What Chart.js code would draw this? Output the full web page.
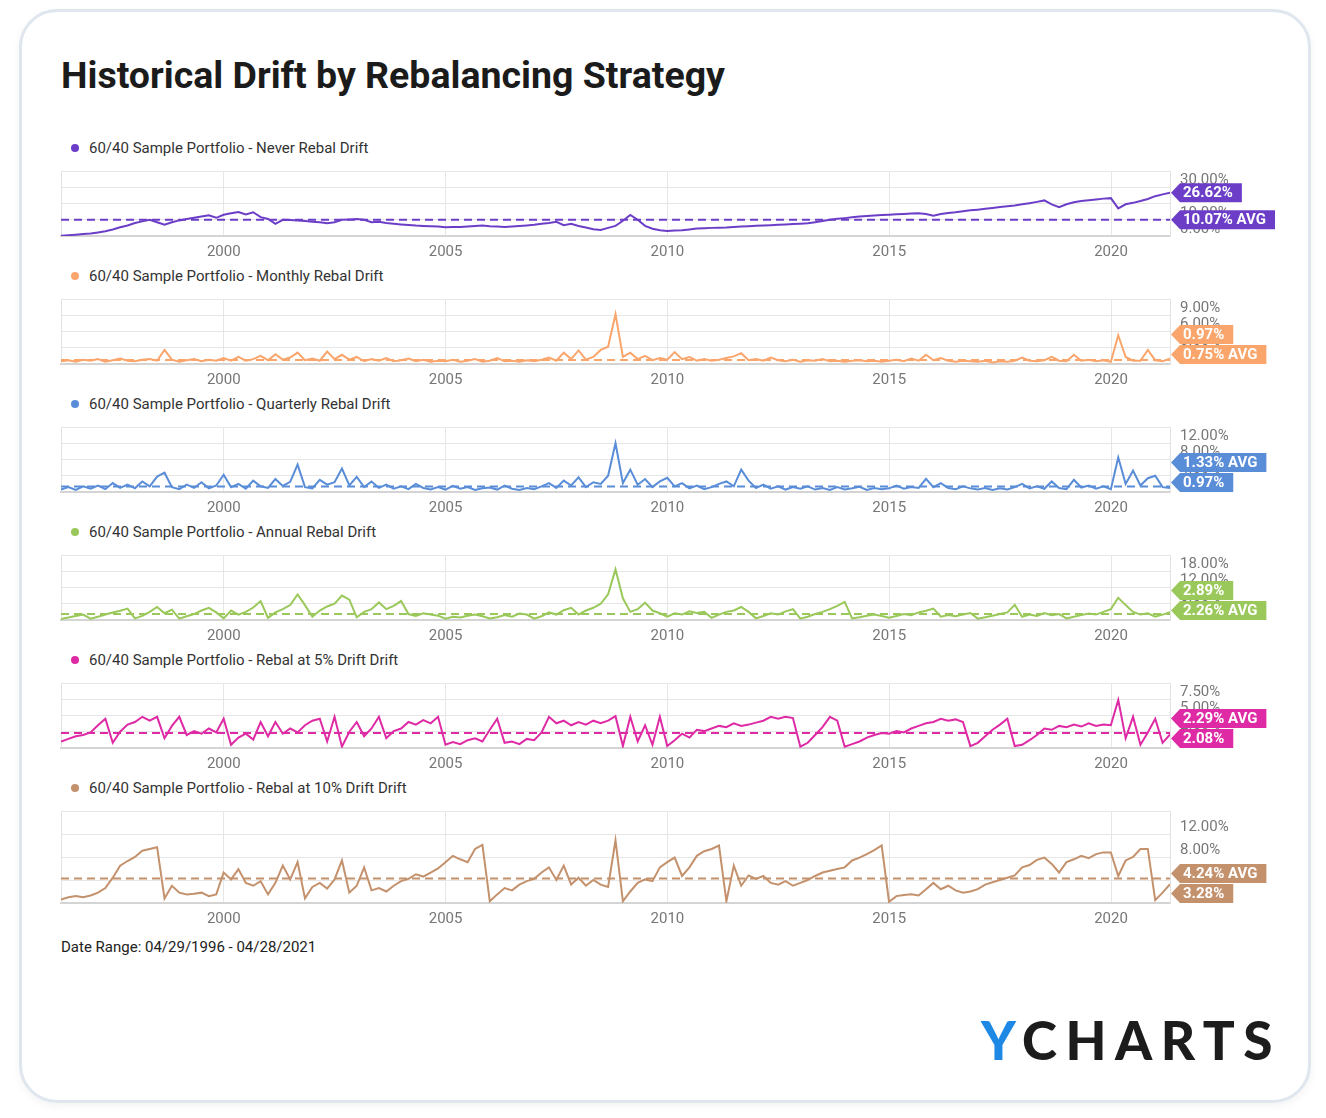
<!DOCTYPE html>
<html>
<head>
<meta charset="utf-8">
<script src="https://cdn.jsdelivr.net/npm/chart.js@4.4.1/dist/chart.umd.min.js"></script>
<style>
  body { margin: 0; background: #fff; width: 1326px; height: 1118px; position: relative; overflow: hidden; font-family: Roboto, sans-serif; }
  .card { position: absolute; left: 19px; top: 9px; width: 1286px; height: 1088px; border: 3px solid #dfe6ee; border-radius: 38px; box-shadow: 0 3px 8px rgba(0,0,0,0.05); }
  h1 { position: absolute; left: 61px; top: 53px; margin: 0; font: 700 37.5px Roboto; color: #1b1b1b; }
  .legend { position: absolute; left: 71px; font: 400 15px Roboto; color: #333; line-height: 17px; white-space: nowrap; }
  .legend i { display: inline-block; width: 8px; height: 8px; border-radius: 50%; margin-right: 10px; vertical-align: 1px; }
  canvas { position: absolute; left: 50px; }
  .range { position: absolute; left: 61px; top: 938px; font: 400 15px Roboto; color: #222; }
  .logo { position: absolute; left: 981px; top: 1008px; font: 900 53px Lato; letter-spacing: 8.5px; color: #1c1c1c; }
  .logo span { color: #1e88e5; }
</style>
</head>
<body>
<div class="card"></div>
<h1>Historical Drift by Rebalancing Strategy</h1>
<div id="panels"></div>
<div class="range">Date Range: 04/29/1996 - 04/28/2021</div>
<div class="logo"><span>Y</span>CHARTS</div>
<script>
// bi-monthly observations, 04/1996 .. 04/2021
const dates = Array.from({ length: 151 }, (_, i) => 1996.33 + i / 6);
const yearTicks = [2000, 2005, 2010, 2015, 2020];

const seriesNames = [
  '60/40 Sample Portfolio - Never Rebal Drift',
  '60/40 Sample Portfolio - Monthly Rebal Drift',
  '60/40 Sample Portfolio - Quarterly Rebal Drift',
  '60/40 Sample Portfolio - Annual Rebal Drift',
  '60/40 Sample Portfolio - Rebal at 5% Drift Drift',
  '60/40 Sample Portfolio - Rebal at 10% Drift Drift'
];
const seriesColors = ['#6c3ec8', '#f9a56c', '#5a8dd8', '#9ac85a', '#de2aa5', '#c4916d'];
const averages = [10.07, 0.75, 1.33, 2.26, 2.29, 4.24];
const axisMax = [40, 12, 16, 24, 10, 16];
const axisStep = [10, 3, 4, 6, 2.5, 4];

const neverRebal = [0.2,0.5,0.8,1.2,
  1.6,2.2,2.9,4.0,5.4,6.5, 8.0,9.0,10.0,8.5,6.9,8.5, 9.6,10.5,11.2,12.0,12.7,11.2,
  13.1,14.0,14.8,13.3,14.6,11.6, 10.5,7.5,10.0,9.8,9.6,9.2, 8.8,8.5,7.9,8.5,10.0,10.2,
  10.4,10.0,8.5,8.8,8.0,7.5, 7.1,6.8,6.4,6.2,6.0,5.8, 5.4,5.6,5.5,5.8,6.2,6.4,
  6.0,5.8,5.6,5.9,6.2,6.5, 6.9,7.5,8.0,8.75,6.7,7.5, 6.2,5.2,4.2,3.75,5.0,6.25,
  9.4,13.0,10.0,6.25,4.5,3.5, 3.1,3.4,3.5,4.0,4.6,4.8, 5.0,5.1,5.2,5.5,5.8,6.0,
  6.25,6.4,6.6,6.9,7.1,7.4, 7.6,7.9,8.5,9.2,10.0,10.6, 11.0,11.5,12.0,12.3,12.6,12.9,
  13.1,13.4,13.6,13.8,14.0,13.5, 12.5,13.5,14.2,14.6,15.2,15.8, 16.2,16.7,17.2,17.8,18.3,18.75,
  19.5,20.2,21.0,21.9,19.5,17.7, 19.5,20.8,21.5,22.0,22.5,23.0, 23.3,17.0,19.5,20.4,21.5,22.8,
  24.5,25.6,26.62];

const monthlyRebal = [0.5,0.7,0.4,0.8,
  0.6,0.9,0.4,0.7,1.0,0.6, 0.5,0.8,0.9,0.6,2.6,0.8, 0.4,0.7,0.9,0.5,0.8,0.6,
  1.1,0.6,1.3,0.6,0.9,1.5, 0.7,1.8,0.8,1.2,2.1,0.7, 1.0,0.6,2.3,0.9,1.7,0.8,
  1.3,0.5,0.9,0.6,1.1,0.5, 0.7,1.0,0.5,0.8,0.4,0.6, 0.5,0.8,0.4,0.6,0.9,0.4,
  0.6,1.1,0.5,0.6,0.4,0.7, 0.5,0.8,1.2,0.6,2.1,0.9, 2.5,0.8,1.3,2.6,3.2,9.2,
  1.3,2.1,0.9,1.5,0.7,1.1, 0.8,2.2,0.9,1.3,0.6,0.9, 0.6,0.8,1.1,1.4,2.0,0.7,
  0.9,0.6,1.2,0.7,0.5,0.8, 0.4,0.7,0.6,0.9,0.5,0.6, 0.4,0.6,0.7,0.5,0.6,0.4,
  0.6,0.8,0.5,1.0,0.6,1.7, 0.7,1.1,0.6,0.4,0.6,0.5, 0.4,0.6,0.3,0.5,0.4,0.6,
  1.2,0.6,0.5,0.7,1.3,0.6, 0.5,1.7,0.6,0.8,0.5,0.7, 0.4,5.3,1.3,0.6,0.6,2.6,
  0.7,0.5,0.97];

const quarterlyRebal = [0.6,1.2,0.5,1.4,
  0.8,1.6,0.7,2.2,1.0,1.8, 0.9,2.6,1.4,3.8,4.75,1.2, 0.7,1.8,1.0,2.4,0.9,1.6,
  4.25,1.2,2.0,0.8,2.8,1.4, 1.0,3.2,1.5,2.5,6.75,1.2, 0.9,3.0,1.8,2.4,5.75,1.6,
  3.7,1.2,2.6,1.0,1.8,0.8, 1.4,0.7,2.0,1.0,0.6,1.2, 0.6,1.5,0.8,1.2,0.5,0.9,
  1.1,0.6,1.6,0.8,0.5,1.0, 0.7,1.4,2.2,1.0,2.8,1.6, 3.6,1.2,2.4,2.0,4.0,12.0,
  2.2,5.5,1.8,3.2,1.2,2.6, 3.5,1.4,2.2,0.9,1.6,0.7, 1.2,2.0,2.6,1.4,5.5,2.8,
  1.0,1.8,0.8,1.4,0.6,1.2, 0.8,1.4,0.6,1.0,0.5,1.2, 0.6,0.9,1.3,0.5,1.0,0.7,
  0.9,1.6,0.8,1.2,1.0,3.25, 1.2,2.2,1.0,0.7,1.4,0.9, 0.6,1.0,0.5,0.9,0.6,1.2,
  2.0,0.9,1.4,0.8,2.6,1.0, 0.7,3.0,1.1,1.6,0.8,1.4, 0.7,8.5,2.0,5.25,1.6,3.4,
  4.0,1.2,0.97];

const annualRebal = [0.4,0.9,1.5,2.0,
  0.5,1.2,2.0,2.8,3.4,4.2, 0.6,1.5,3.0,4.8,2.5,3.8, 0.5,1.4,2.2,3.5,4.5,2.8,
  0.6,3.5,2.0,3.0,4.6,7.0, 0.8,2.8,4.0,5.5,9.4,5.5, 1.2,3.5,5.0,6.0,9.0,7.5,
  1.0,3.0,4.0,6.5,4.0,5.2, 7.0,2.2,1.5,2.5,2.0,1.6, 0.5,1.2,0.9,1.6,2.0,1.4,
  0.6,1.0,1.8,1.2,2.4,2.0, 0.5,1.4,2.8,2.0,3.6,4.5, 2.0,3.5,4.5,6.0,9.5,18.7,
  8.0,3.0,4.0,6.4,3.5,2.5, 1.2,2.5,2.0,3.2,2.6,3.0, 0.8,2.0,3.0,3.5,4.8,3.0,
  0.6,1.5,2.5,2.0,3.2,4.0, 0.5,1.2,2.2,3.0,4.0,5.2, 6.7,0.6,1.0,1.6,2.0,1.5,
  0.8,1.5,2.2,1.8,2.8,3.4, 4.2,1.2,1.8,1.4,2.0,2.6, 0.5,1.0,1.6,2.2,2.8,5.6,
  1.2,2.0,1.5,2.6,1.8,2.2, 0.6,1.2,1.8,2.4,2.0,3.0, 4.0,8.2,5.5,3.0,2.0,2.5,
  1.2,2.0,2.89];

const drift5Rebal = [1.0,1.4,1.8,2.0,
  2.4,3.5,4.5,0.8,2.5,3.6, 4.0,4.8,4.2,4.8,1.5,3.4, 4.8,2.0,2.6,2.2,3.0,2.4,
  4.5,0.5,1.6,2.2,1.3,4.0, 1.8,4.0,2.2,3.0,2.4,3.5, 4.2,4.5,1.0,4.8,0.2,2.5,
  4.0,1.8,3.0,4.8,1.5,2.6, 3.0,4.0,3.6,4.3,3.8,4.8, 0.5,0.9,0.6,1.2,1.5,1.0,
  2.8,4.5,0.8,1.0,0.6,1.4, 1.2,2.4,4.8,3.8,4.2,3.5, 4.0,3.6,4.2,3.8,4.2,4.9,
  0.3,4.8,1.0,3.5,0.5,4.8, 0.3,1.2,2.2,1.6,2.8,2.6, 3.0,3.4,3.2,3.8,3.4,3.6,
  3.9,4.2,4.8,4.5,4.8,4.6, 0.2,0.8,2.0,3.2,4.8,4.2, 0.2,0.6,1.0,1.6,2.0,2.3,
  2.2,2.6,2.4,3.0,3.4,3.8, 4.0,4.5,4.2,4.4,4.0,0.3, 0.8,1.8,2.8,3.6,4.5,0.3,
  0.5,1.2,2.0,3.0,2.8,3.4, 3.2,3.6,3.3,3.8,3.4,3.6, 3.5,7.4,1.5,4.8,0.5,2.4,
  4.5,0.8,2.08];

const drift10Rebal = [0.6,1.0,1.2,1.0,
  1.3,1.8,2.6,4.4,6.5,7.3, 8.0,9.1,9.4,9.7,0.8,3.0, 1.8,1.5,1.6,1.8,1.2,1.5,
  5.3,4.1,5.9,3.5,3.0,3.8, 1.5,3.5,6.5,4.1,7.1,0.8, 2.8,3.5,2.5,4.1,7.4,1.8,
  3.0,6.2,2.2,2.6,2.0,3.0, 3.8,4.2,5.0,4.6,5.3,6.0, 7.1,8.2,7.6,7.1,9.4,10.1,
  0.3,1.5,2.6,2.2,3.2,3.8, 4.2,5.3,6.2,4.0,6.5,3.2, 4.4,3.0,4.0,3.2,2.8,10.9,
  0.3,2.0,3.5,4.1,3.8,6.2, 7.1,7.9,4.7,6.2,8.2,9.0, 9.4,10.0,0.3,6.5,3.0,4.8,
  4.2,4.7,3.5,3.2,3.8,3.0, 3.5,4.0,4.7,5.3,5.6,5.9, 6.2,7.4,7.9,8.5,9.2,10.0,
  0.2,1.2,1.4,1.5,1.3,2.4, 3.5,2.4,3.0,2.2,1.8,2.0, 2.4,3.2,3.6,4.0,4.4,4.8,
  6.2,6.6,7.5,7.9,6.8,5.3, 7.1,7.6,8.2,7.8,8.5,8.8, 8.8,4.7,7.4,8.0,9.4,9.4,
  0.5,1.8,3.28];

const allSeries = [neverRebal, monthlyRebal, quarterlyRebal, annualRebal, drift5Rebal, drift10Rebal];

// page layout of each panel: plot top and plot height
const plotTops = [171, 299, 427, 555, 683, 811];
const plotHeights = [65, 65, 65, 65, 65, 92];

function drawTag(ctx, x, y, text, color) {
  ctx.save();
  ctx.font = 'bold 15px Roboto';
  const w = ctx.measureText(text).width;
  const h = 19;
  ctx.fillStyle = color;
  ctx.beginPath();
  ctx.moveTo(x, y);
  ctx.lineTo(x + 9, y - h / 2);
  ctx.lineTo(x + 12 + w + 9, y - h / 2);
  ctx.lineTo(x + 12 + w + 9, y + h / 2);
  ctx.lineTo(x + 9, y + h / 2);
  ctx.closePath();
  ctx.fill();
  ctx.fillStyle = '#fff';
  ctx.textBaseline = 'middle';
  ctx.fillText(text, x + 12, y + 1);
  ctx.restore();
}

const tagPlugin = {
  id: 'tags',
  afterDraw(chart) {
    const o = chart.options.plugins.tags;
    const y = chart.scales.y;
    const area = chart.chartArea;
    const tags = [
      { y: y.getPixelForValue(o.last), text: o.last.toFixed(2) + '%' },
      { y: y.getPixelForValue(o.avg), text: o.avg.toFixed(2) + '% AVG' }
    ];
    tags.sort((a, b) => a.y - b.y);
    if (tags[1].y - tags[0].y < 20) {
      tags[1].y = area.bottom - 9.5;
      tags[0].y = tags[1].y - 20;
    }
    tags.forEach(t => drawTag(chart.ctx, area.right + 1, t.y, t.text, o.color));
  }
};

const framePlugin = {
  id: 'frame',
  beforeDatasetsDraw(chart) {
    const a = chart.chartArea, ctx = chart.ctx;
    ctx.save();
    ctx.strokeStyle = '#e3e3e3';
    ctx.lineWidth = 1;
    ctx.beginPath();
    ctx.moveTo(a.left + 0.5, a.top);
    ctx.lineTo(a.left + 0.5, a.bottom);
    ctx.stroke();
    ctx.restore();
  }
};

const panels = document.getElementById('panels');

allSeries.forEach((values, i) => {
  const legend = document.createElement('div');
  legend.className = 'legend';
  legend.style.top = (plotTops[i] - 31) + 'px';
  legend.innerHTML = '<i style="background:' + seriesColors[i] + '"></i>' + seriesNames[i];
  panels.appendChild(legend);

  const canvas = document.createElement('canvas');
  const h = plotHeights[i] + 6 + 28;
  canvas.width = 1240;
  canvas.height = h;
  canvas.style.width = '1240px';
  canvas.style.height = h + 'px';
  canvas.style.top = (plotTops[i] - 6) + 'px';
  panels.appendChild(canvas);

  const points = values.map((v, k) => ({ x: dates[k], y: v }));
  const avgLine = [{ x: dates[0], y: averages[i] }, { x: dates[dates.length - 1], y: averages[i] }];
  const max = axisMax[i];

  new Chart(canvas, {
    type: 'line',
    data: {
      datasets: [
        { data: avgLine, borderColor: seriesColors[i], borderWidth: 2, borderDash: [8, 5], pointRadius: 0 },
        { data: points, borderColor: seriesColors[i], borderWidth: 2, pointRadius: 0, tension: 0 }
      ]
    },
    options: {
      responsive: false,
      animation: false,
      devicePixelRatio: 1,
      layout: { padding: { left: 11, top: 6, right: 0, bottom: 0 } },
      plugins: {
        legend: { display: false },
        tooltip: { enabled: false },
        tags: { last: values[values.length - 1], avg: averages[i], color: seriesColors[i] }
      },
      scales: {
        x: {
          type: 'linear',
          bounds: 'data',
          min: dates[0],
          max: dates[dates.length - 1],
          afterBuildTicks: function (scale) {
            scale.ticks = yearTicks.map(v => ({ value: v }));
          },
          afterFit: function (scale) {
            scale.height = 28;
            scale.paddingLeft = 0;
            scale.paddingRight = 0;
          },
          grid: { color: '#e6e6e6', drawTicks: false },
          border: { color: '#d4d4d4', width: 2 },
          ticks: {
            padding: 7,
            color: '#777',
            autoSkip: false,
            font: { family: 'Roboto', size: 15 },
            maxRotation: 0,
            callback: function (value) { return String(value); }
          }
        },
        y: {
          position: 'right',
          min: 0,
          max: max,
          afterFit: function (scale) {
            scale.width = 120;
            scale.paddingTop = 0;
            scale.paddingBottom = 0;
          },
          grid: { color: '#e6e6e6', drawTicks: false },
          border: { color: '#e3e3e3' },
          ticks: {
            stepSize: axisStep[i],
            autoSkip: false,
            padding: 10,
            labelOffset: -7,
            color: '#777',
            font: { family: 'Roboto', size: 15 },
            callback: function (value) { return value === max ? '' : value.toFixed(2) + '%'; }
          }
        }
      }
    },
    plugins: [framePlugin, tagPlugin]
  });
});
</script>
</body>
</html>
